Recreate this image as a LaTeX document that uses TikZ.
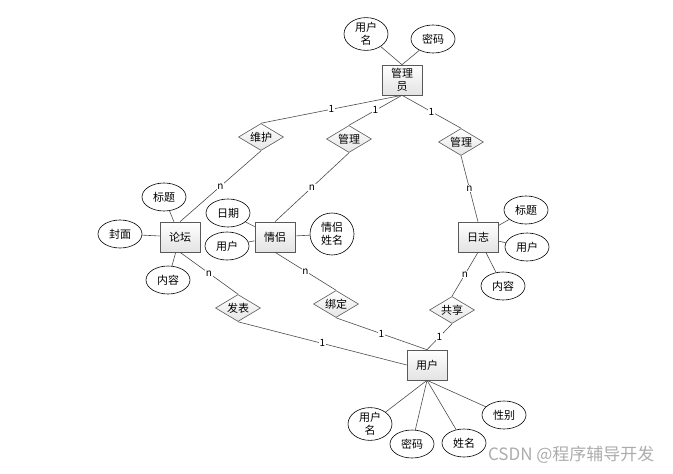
\documentclass[tikz,border=0pt]{standalone}
\usepackage{fontspec}
\setmainfont{Noto Sans CJK SC}
\usetikzlibrary{shapes.geometric, shadows}
\tikzset{
    erentity/.style={rectangle, draw=gray!70!black, top color=white, bottom color=gray!22, minimum width=40pt, minimum height=30pt, inner sep=1pt, align=center, font=\fontsize{11}{13}\selectfont, line width=0.6pt, drop shadow={opacity=0.25, shadow xshift=1.2pt, shadow yshift=-1.2pt}},
    erattr/.style={ellipse, draw=black, fill=white, minimum width=44pt, minimum height=28pt, inner sep=0pt, align=center, font=\fontsize{11}{13}\selectfont, line width=0.6pt},
    errel/.style={diamond, draw=gray!70!black, top color=white, bottom color=gray!20, aspect=1.7, minimum width=45pt, minimum height=27pt, inner sep=0pt, font=\fontsize{11}{13}\selectfont, line width=0.6pt},
    erline/.style={draw=gray!60!black, line width=0.6pt},
    ercard/.style={font=\fontsize{10}{11}\selectfont, fill=white, inner sep=0.5pt}
}

\begin{document}
\begin{tikzpicture}[x=1pt, y=-1pt]
\useasboundingbox (0,0) rectangle (673,474);

% entities
\node[erentity] (gly) at (402,80) {管理\\员};
\node[erentity] (lt) at (180,237) {论坛};
\node[erentity] (ql) at (275,237) {情侣};
\node[erentity] (rz) at (478,237) {日志};
\node[erentity] (yh) at (427,365) {用户};

% relations
\node[errel] (wh) at (261,137) {维护};
\node[errel] (gl1) at (349,139) {管理};
\node[errel] (gl2) at (461,142) {管理};
\node[errel] (fb) at (238,308) {发表};
\node[errel] (bd) at (336,304) {绑定};
\node[errel] (gx) at (452,310) {共享};

% attributes
\node[erattr, minimum height=32pt] (glyname) at (366,34) {用户\\名};
\node[erattr] (glypwd) at (433,39) {密码};
\node[erattr] (ltbt) at (164,197) {标题};
\node[erattr] (ltfm) at (120,234) {封面};
\node[erattr] (ltnr) at (168,280) {内容};
\node[erattr] (qlrq) at (228,213) {日期};
\node[erattr] (qlyh) at (227,246) {用户};
\node[erattr, minimum height=42pt] (qlxm) at (332,234) {情侣\\姓名};
\node[erattr] (rzbt) at (526,210) {标题};
\node[erattr] (rzyh) at (527,247) {用户};
\node[erattr] (rznr) at (503,286) {内容};
\node[erattr, minimum height=32pt] (yhname) at (370,424) {用户\\名};
\node[erattr] (yhpwd) at (412,444) {密码};
\node[erattr] (yhxm) at (464,443) {姓名};
\node[erattr] (yhxb) at (504,415) {性别};

% attribute lines
\draw[erline] (glyname) -- (gly.north);
\draw[erline] (glypwd) -- (gly.north);
\draw[erline] (ltbt) -- (lt);
\draw[erline] (ltfm) -- (lt);
\draw[erline] (ltnr) -- (lt);
\draw[erline] (qlrq) -- (ql);
\draw[erline] (qlyh) -- (ql);
\draw[erline] (qlxm) -- (ql);
\draw[erline] (rzbt) -- (rz);
\draw[erline] (rzyh) -- (rz);
\draw[erline] (rznr) -- (rz);
\draw[erline] (yhname) -- (yh.south);
\draw[erline] (yhpwd) -- (yh.south);
\draw[erline] (yhxm) -- (yh.south);
\draw[erline] (yhxb) -- (yh.south);

% relation lines
\draw[erline] (gly.south) -- node[ercard] {1} (wh.north);
\draw[erline] (gly.south) -- node[ercard] {1} (gl1.north);
\draw[erline] (gly.south) -- node[ercard] {1} (gl2.north);
\draw[erline] (wh.south) -- node[ercard] {n} (lt.north);
\draw[erline] (gl1.south) -- node[ercard] {n} (ql.north);
\draw[erline] (gl2.south) -- node[ercard] {n} (rz.north);
\draw[erline] (lt.south) -- node[ercard] {n} (fb.north);
\draw[erline] (ql.south) -- node[ercard] {n} (bd.north);
\draw[erline] (rz.south) -- node[ercard] {n} (gx.north);
\draw[erline] (fb.south) -- node[ercard] {1} (yh.west);
\draw[erline] (bd.south) -- node[ercard] {1} (yh.north);
\draw[erline] (gx.south) -- node[ercard] {1} (yh.north);

\node[text=gray!65, font=\fontsize{17}{19}\selectfont, anchor=east] (wm) at (658,455) {CSDN @程序辅导开发};

\end{tikzpicture}
\end{document}
